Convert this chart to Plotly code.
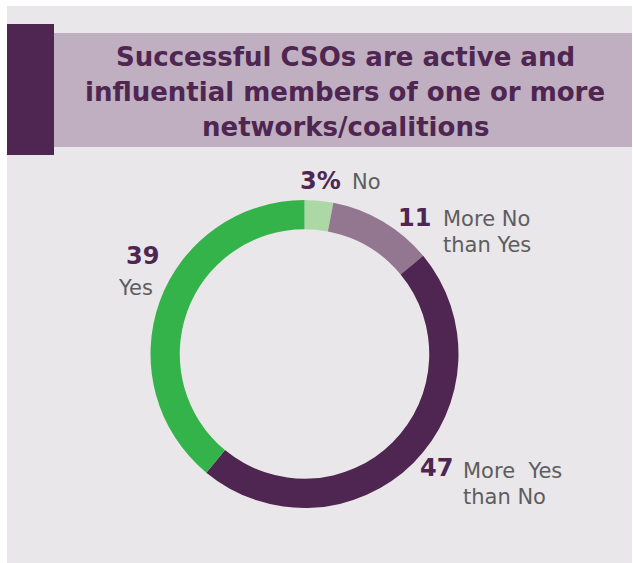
import plotly.graph_objects as go

# Share of responses per answer, clockwise from the top
categories = ["No", "More No than Yes", "More Yes than No", "Yes"]
values = [3, 11, 47, 39]
colors = ["#acd8a6", "#93768f", "#4f2551", "#34b34a"]
label_lines = [["No"], ["More No", "than Yes"], ["More  Yes", "than No"], ["Yes"]]

title_lines = [
    "Successful CSOs are active and",
    "influential members of one or more",
    "networks/coalitions",
]

W, H = 633, 563
PURPLE = "#4f2551"
GREY_TXT = "#5d5d60"
FONT = "DejaVu Sans"


def px(x):
    return x / W


def py(y):
    return 1 - y / H


def note(text, x, y, size, color, xanchor="left"):
    return dict(text=text, x=px(x), y=py(y), xref="paper", yref="paper",
                showarrow=False, xanchor=xanchor, yanchor="middle",
                font=dict(family=FONT, size=size, color=color))


# Donut geometry (pixels)
cx, cy, r = 304.5, 354, 154

fig = go.Figure()
fig.add_trace(go.Pie(
    labels=categories,
    values=values,
    marker=dict(colors=colors, line=dict(width=0)),
    hole=0.81,
    sort=False,
    direction="clockwise",
    rotation=0,
    textinfo="none",
    hoverinfo="label+value",
    showlegend=False,
    domain=dict(x=[px(cx - r), px(cx + r)], y=[py(cy + r), py(cy - r)]),
))

shapes = [
    dict(type="rect", xref="paper", yref="paper", x0=px(7), x1=px(632), y0=py(563), y1=py(6),
         fillcolor="#e9e7ea", line=dict(width=0), layer="below"),
    dict(type="rect", xref="paper", yref="paper", x0=px(54), x1=px(632), y0=py(147), y1=py(33),
         fillcolor="#bfafc0", line=dict(width=0), layer="below"),
    dict(type="rect", xref="paper", yref="paper", x0=px(7), x1=px(54), y0=py(155), y1=py(24),
         fillcolor=PURPLE, line=dict(width=0), layer="below"),
]

annotations = []
for line, ty in zip(title_lines, [57, 92, 127]):
    annotations.append(note(f"<b>{line}</b>", 345, ty, 26, PURPLE, xanchor="center"))

# number position (x, y, anchor) and category-text positions per slice
num_pos = [(298, 181, "left"), (433, 218, "right"), (418, 468, "left"), (124, 256, "left")]
txt_pos = [[(350, 182)], [(441, 219), (441, 245)], [(461, 471), (461, 497)], [(116, 288)]]
for i, v in enumerate(values):
    num = f"{v}%" if i == 0 else f"{v}"
    nx, ny, anc = num_pos[i]
    annotations.append(note(f"<b>{num}</b>", nx, ny, 24, PURPLE, xanchor=anc))
    for line, (tx, ty) in zip(label_lines[i], txt_pos[i]):
        annotations.append(note(line, tx, ty, 21, GREY_TXT))

fig.update_layout(
    width=W, height=H,
    margin=dict(l=0, r=0, t=0, b=0),
    paper_bgcolor="white",
    plot_bgcolor="white",
    shapes=shapes,
    annotations=annotations,
)

fig.write_html("out.html")
